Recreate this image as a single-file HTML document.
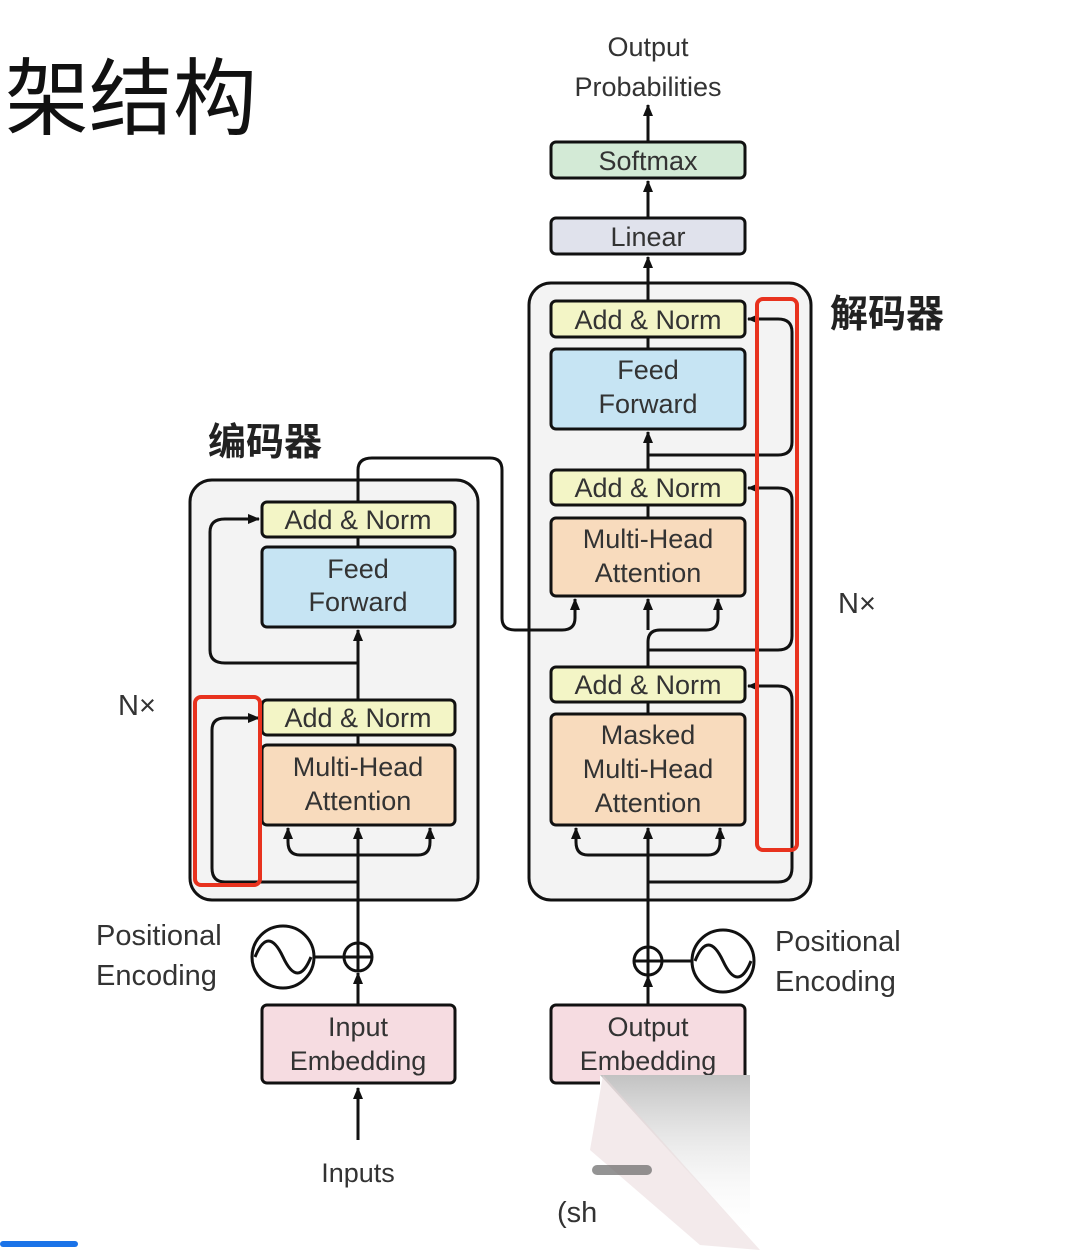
<!DOCTYPE html>
<html><head><meta charset="utf-8"><style>
body{margin:0;background:#fff;}
svg{display:block}
text{font-family:"Liberation Sans","Noto Sans CJK SC",sans-serif;fill:#333;}
</style></head><body>
<svg width="1080" height="1257" viewBox="0 0 1080 1257" xmlns="http://www.w3.org/2000/svg">
<defs>
<marker id="a" markerWidth="12" markerHeight="10" refX="11" refY="5" orient="auto" markerUnits="userSpaceOnUse"><path d="M0,0 L12,5 L0,10 Z" fill="#111"/></marker>
<marker id="r" markerWidth="12" markerHeight="10" refX="11" refY="5" orient="auto" markerUnits="userSpaceOnUse"><path d="M0,0 L12,5 L0,10 Z" fill="#111"/></marker>
<linearGradient id="sh" x1="0" y1="0" x2="0" y2="1"><stop offset="0" stop-color="#999"/><stop offset="1" stop-color="#fff" stop-opacity="0"/></linearGradient>
</defs>
<text x="5" y="128" font-size="84" style="fill:#111">架结构</text>
<rect x="190" y="480" width="288" height="420" rx="22" fill="#f3f3f3" stroke="#111" stroke-width="3"/>
<rect x="529" y="283" width="282" height="617" rx="22" fill="#f3f3f3" stroke="#111" stroke-width="3"/>
<g stroke="#111" stroke-width="3" fill="none">
<line x1="358" y1="1140" x2="358" y2="1088" marker-end="url(#a)"/>
<line x1="358" y1="1005" x2="358" y2="973" marker-end="url(#a)"/>
<line x1="358" y1="943" x2="358" y2="828" marker-end="url(#a)"/>
<line x1="358" y1="745" x2="358" y2="735"/>
<line x1="358" y1="700" x2="358" y2="630" marker-end="url(#a)"/>
<line x1="358" y1="547" x2="358" y2="537"/>
<path d="M358,882 H225 Q212,882 212,868 V730 Q212,718 225,718 H259" marker-end="url(#r)"/>
<path d="M358,855 H300 Q288,855 288,842 V828" marker-end="url(#a)"/>
<path d="M358,855 H418 Q430,855 430,842 V828" marker-end="url(#a)"/>
<path d="M358,663 H225 Q210,663 210,650 V532 Q210,519 225,519 H259"  marker-end="url(#r)"/>
<path d="M358,502 V470 Q358,458 372,458 H490 Q502,458 502,470 V618 Q502,630 515,630 H562 Q575,630 575,618 V599" marker-end="url(#a)"/>
<line x1="648" y1="1005" x2="648" y2="976" marker-end="url(#a)"/>
<line x1="648" y1="946" x2="648" y2="828" marker-end="url(#a)"/>
<path d="M648,855 H588 Q576,855 576,842 V828" marker-end="url(#a)"/>
<path d="M648,855 H708 Q720,855 720,842 V828" marker-end="url(#a)"/>
<path d="M648,882 H778 Q792,882 792,868 V700 Q792,686 778,686 H748" marker-end="url(#r)"/>
<line x1="648" y1="714" x2="648" y2="702"/>
<path d="M648,667 V642 Q648,630 660,630 H706 Q718,630 718,618 V599" marker-end="url(#a)"/>
<line x1="648" y1="630" x2="648" y2="599" marker-end="url(#a)"/>
<path d="M648,650 H778 Q792,650 792,636 V500 Q792,488 778,488 H748" marker-end="url(#r)"/>
<line x1="648" y1="518" x2="648" y2="505"/>
<line x1="648" y1="470" x2="648" y2="432" marker-end="url(#a)"/>
<path d="M648,455 H778 Q792,455 792,442 V332 Q792,319 778,319 H748" marker-end="url(#r)"/>
<line x1="648" y1="349" x2="648" y2="337"/>
<line x1="648" y1="301" x2="648" y2="257" marker-end="url(#a)"/>
<line x1="648" y1="218" x2="648" y2="181" marker-end="url(#a)"/>
<line x1="648" y1="142" x2="648" y2="105" marker-end="url(#a)"/>
<circle cx="358" cy="957" r="14"/><path d="M344,957 H372 M358,943 V971"/>
<line x1="314" y1="957" x2="344" y2="957"/>
<circle cx="283" cy="957" r="31"/><path d="M255,957 Q268,925 283,957 T311,957"/>
<circle cx="648" cy="961" r="14"/><path d="M634,961 H662 M648,947 V975"/>
<line x1="662" y1="961" x2="692" y2="961"/>
<circle cx="723" cy="961" r="31"/><path d="M695,961 Q708,929 723,961 T751,961"/>
</g>
<g stroke="#111" stroke-width="3">
<rect x="262" y="502" width="193" height="35" rx="5" fill="#f3f5c6"/>
<rect x="262" y="547" width="193" height="80" rx="5" fill="#c6e4f3"/>
<rect x="262" y="700" width="193" height="35" rx="5" fill="#f3f5c6"/>
<rect x="262" y="745" width="193" height="80" rx="5" fill="#f8dbbd"/>
<rect x="551" y="301" width="194" height="36" rx="5" fill="#f3f5c6"/>
<rect x="551" y="349" width="194" height="80" rx="5" fill="#c6e4f3"/>
<rect x="551" y="470" width="194" height="35" rx="5" fill="#f3f5c6"/>
<rect x="551" y="518" width="194" height="78" rx="5" fill="#f8dbbd"/>
<rect x="551" y="667" width="194" height="35" rx="5" fill="#f3f5c6"/>
<rect x="551" y="714" width="194" height="111" rx="5" fill="#f8dbbd"/>
<rect x="551" y="142" width="194" height="36" rx="5" fill="#d3ead6"/>
<rect x="551" y="218" width="194" height="36" rx="5" fill="#e0e2ec"/>
<rect x="262" y="1005" width="193" height="78" rx="5" fill="#f6dce1"/>
<rect x="551" y="1005" width="194" height="78" rx="5" fill="#f6dce1"/>
</g>
<g font-size="27" text-anchor="middle">
<text x="358" y="529">Add &amp; Norm</text>
<text x="358" y="578">Feed</text><text x="358" y="611">Forward</text>
<text x="358" y="727">Add &amp; Norm</text>
<text x="358" y="776">Multi-Head</text><text x="358" y="810">Attention</text>
<text x="648" y="329">Add &amp; Norm</text>
<text x="648" y="379">Feed</text><text x="648" y="413">Forward</text>
<text x="648" y="497">Add &amp; Norm</text>
<text x="648" y="548">Multi-Head</text><text x="648" y="582">Attention</text>
<text x="648" y="694">Add &amp; Norm</text>
<text x="648" y="744">Masked</text><text x="648" y="778">Multi-Head</text><text x="648" y="812">Attention</text>
<text x="648" y="170">Softmax</text>
<text x="648" y="246">Linear</text>
<text x="648" y="56">Output</text><text x="648" y="96">Probabilities</text>
<text x="358" y="1036">Input</text><text x="358" y="1070">Embedding</text>
<text x="648" y="1036">Output</text><text x="648" y="1070">Embedding</text>
<text x="358" y="1182">Inputs</text>
</g>
<g font-size="29">
<text x="96" y="945">Positional</text><text x="96" y="985">Encoding</text>
<text x="775" y="951">Positional</text><text x="775" y="991">Encoding</text>
<text x="118" y="715">N×</text><text x="838" y="613">N×</text>
<text x="557" y="1222">(sh</text>
</g>
<g font-size="38" font-weight="bold">
<text x="208" y="455" style="fill:#222">编码器</text>
<text x="830" y="327" style="fill:#222">解码器</text>
</g>
<rect x="195" y="697" width="65" height="188" rx="6" fill="none" stroke="#e8321e" stroke-width="4"/>
<rect x="757" y="299" width="40" height="551" rx="6" fill="none" stroke="#e8321e" stroke-width="4"/>
<polygon points="600,1075 750,1075 750,1257 600,1257" fill="#fff"/>
<polygon points="600,1075 750,1075 750,1240" fill="url(#sh)" opacity="0.6"/>
<polygon points="603,1075 760,1250 700,1245 590,1150" fill="#e8d6d8" opacity="0.5"/>
<rect x="592" y="1165" width="60" height="10" rx="5" fill="#666" opacity="0.7"/>
<rect x="0" y="1241" width="78" height="6" rx="3" fill="#1a73e8"/>
</svg>
</body></html>
